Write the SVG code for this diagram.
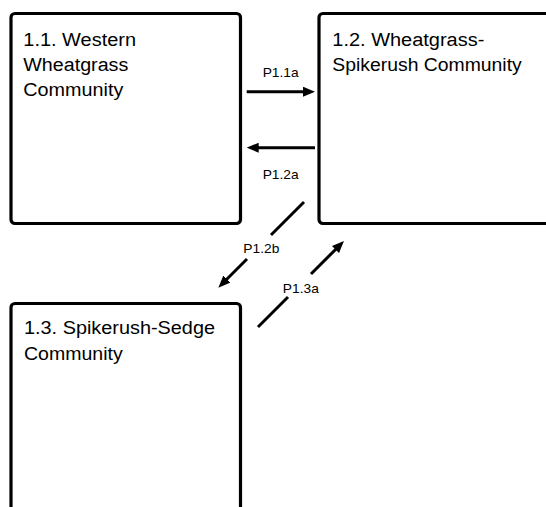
<svg xmlns="http://www.w3.org/2000/svg" width="546" height="507" viewBox="0 0 546 507">
  <style>
    .box { fill: #ffffff; stroke: #000000; stroke-width: 3.2; }
    .title { font-family: "Liberation Sans", Arial, sans-serif; font-size: 18px; fill: #000000; }
    .lbl { font-family: "Liberation Sans", Arial, sans-serif; font-size: 13px; fill: #000000; }
    .conn { fill: none; stroke: #000000; stroke-width: 3; marker-end: url(#arrow); }
  </style>
  <defs>
    <marker id="arrow" markerUnits="userSpaceOnUse" markerWidth="12" markerHeight="10" refX="4" refY="5" orient="auto">
      <path d="M0,0 L12,5 L0,10 Z" fill="#000000"/>
    </marker>
  </defs>
  <rect width="546" height="507" fill="#ffffff"/>

  <g id="node-1-1">
    <rect class="box" x="11" y="13.5" width="229.5" height="210" rx="4"/>
    <text class="title" x="23.3" y="45.7" textLength="112.7" lengthAdjust="spacingAndGlyphs">1.1. Western</text>
    <text class="title" x="23.3" y="71" textLength="105" lengthAdjust="spacingAndGlyphs">Wheatgrass</text>
    <text class="title" x="23.3" y="96.3" textLength="100" lengthAdjust="spacingAndGlyphs">Community</text>
  </g>

  <g id="node-1-2">
    <rect class="box" x="319" y="13.5" width="260" height="210" rx="4"/>
    <text class="title" x="332.3" y="45.7" textLength="152" lengthAdjust="spacingAndGlyphs">1.2. Wheatgrass-</text>
    <text class="title" x="332.3" y="71" textLength="189.4" lengthAdjust="spacingAndGlyphs">Spikerush Community</text>
  </g>

  <g id="node-1-3">
    <rect class="box" x="11" y="303.5" width="229.5" height="260" rx="4"/>
    <text class="title" x="24" y="334.3" textLength="191" lengthAdjust="spacingAndGlyphs">1.3. Spikerush-Sedge</text>
    <text class="title" x="24" y="360" textLength="98.7" lengthAdjust="spacingAndGlyphs">Community</text>
  </g>

  <g id="connectors">
    <path class="conn" d="M246.7,91.7 L307,91.7"/>
    <text class="lbl" x="262.7" y="76.7" textLength="36" lengthAdjust="spacingAndGlyphs">P1.1a</text>

    <path class="conn" d="M315,147.7 L254.7,147.7"/>
    <text class="lbl" x="262.7" y="179" textLength="36" lengthAdjust="spacingAndGlyphs">P1.2a</text>

    <path class="conn" d="M304,202 L271,235 M247,259 L224,282"/>
    <text class="lbl" x="243.3" y="253.3" textLength="36" lengthAdjust="spacingAndGlyphs">P1.2b</text>

    <path class="conn" d="M258,327 L288,297 M311,274 L338.3,246.7"/>
    <text class="lbl" x="282.8" y="292.7" textLength="36" lengthAdjust="spacingAndGlyphs">P1.3a</text>
  </g>
</svg>
